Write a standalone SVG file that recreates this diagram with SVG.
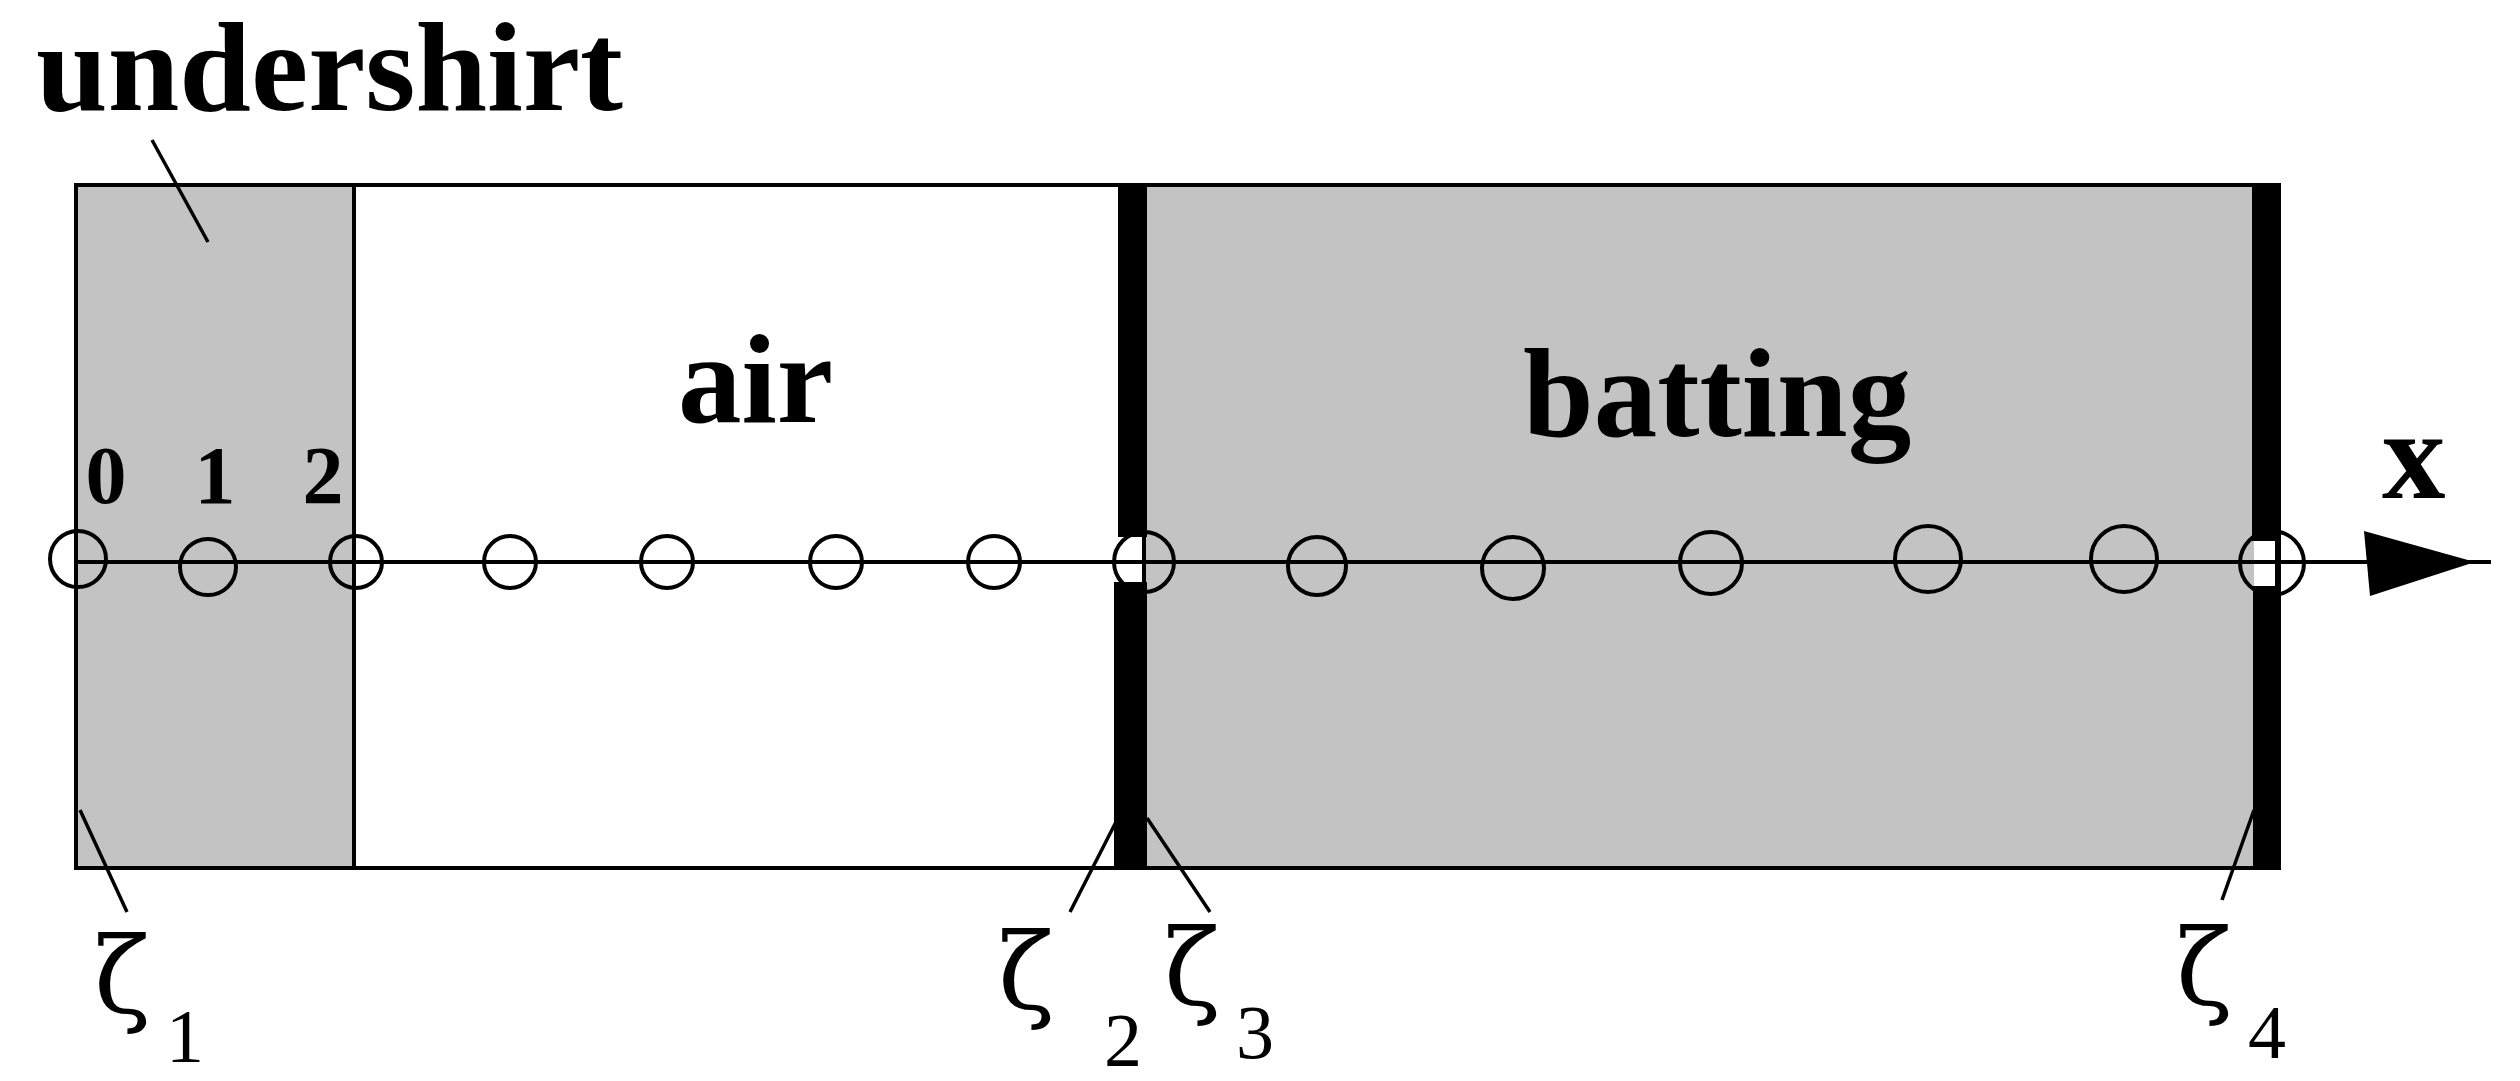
<svg xmlns="http://www.w3.org/2000/svg" width="2520" height="1081" viewBox="0 0 2520 1081">
<style>
.lbl{font-family:"Liberation Serif","Times New Roman",serif;font-weight:bold;fill:#000}
.z{font-family:"DejaVu Serif","Liberation Serif",serif;fill:#000;font-size:104px}
.s{font-family:"Liberation Serif","Times New Roman",serif;fill:#000;font-size:76px}
.ln{stroke:#000;stroke-width:4;fill:none}
.ld{stroke:#000;stroke-width:3.5;fill:none}
.node{stroke:#000;stroke-width:4;fill:none}
.gray{fill:#c3c3c3}
</style>
<rect width="2520" height="1081" fill="#fff"/>
<g id="layers">
<rect id="undershirt" class="gray" x="76" y="185" width="278" height="683"/>
<rect id="air" x="354" y="185" width="764" height="683" fill="#fff"/>
<rect id="batting" class="gray" x="1145" y="185" width="1109" height="683"/>
<rect id="outline" class="ln" x="76" y="185" width="2203" height="683"/>
<line class="ln" x1="354" y1="185" x2="354" y2="868"/>
<rect id="bar2" x="1118" y="185" width="29" height="352" fill="#000"/>
<rect id="bar2b" x="1114" y="582" width="33" height="286" fill="#000"/>
<line class="ln" x1="1144" y1="530" x2="1144" y2="590"/>
<rect id="bar4" x="2252" y="185" width="27" height="356" fill="#000"/>
<rect id="bar4b" x="2253" y="586" width="27" height="284" fill="#000"/>
<line class="ln" x1="2277" y1="530" x2="2277" y2="590"/>
</g>
<g id="connectors">
<line class="ln" x1="76" y1="562" x2="2491" y2="562"/>
<polygon points="2364,531 2475,562 2370,596" fill="#000"/>
<line class="ld" x1="152" y1="140" x2="208" y2="242"/>
<line class="ld" x1="80" y1="810" x2="127" y2="912"/>
<line class="ld" x1="1118" y1="818" x2="1070" y2="912"/>
<line class="ld" x1="1147" y1="818" x2="1210" y2="912"/>
<line class="ld" x1="2254" y1="810" x2="2222" y2="900"/>
</g>
<g id="nodes">
<circle class="node" cx="78" cy="559" r="28"/>
<circle class="node" cx="208" cy="567" r="28"/>
<circle class="node" cx="356" cy="562" r="26"/>
<circle class="node" cx="510" cy="562" r="26"/>
<circle class="node" cx="667" cy="562" r="26"/>
<circle class="node" cx="836" cy="562" r="26"/>
<circle class="node" cx="994" cy="562" r="26"/>
<circle class="node" cx="1144" cy="562" r="30"/>
<circle class="node" cx="1317" cy="566" r="29"/>
<circle class="node" cx="1513" cy="568" r="31"/>
<circle class="node" cx="1711" cy="563" r="31"/>
<circle class="node" cx="1928" cy="559" r="33"/>
<circle class="node" cx="2124" cy="559" r="33"/>
<circle class="node" cx="2272" cy="563" r="32"/>
</g>
<g id="labels">
<text class="lbl" x="36" y="110" font-size="127" textLength="587" lengthAdjust="spacingAndGlyphs">undershirt</text>
<text class="lbl" x="678" y="422" font-size="127">air</text>
<text class="lbl" x="1523" y="436" font-size="127">batting</text>
<text class="lbl" x="2382" y="498" font-size="127">x</text>
<text class="lbl" x="106" y="503" font-size="82" text-anchor="middle">0</text>
<text class="lbl" x="215" y="503" font-size="82" text-anchor="middle">1</text>
<text class="lbl" x="323" y="503" font-size="82" text-anchor="middle">2</text>
<text class="z" x="94" y="1012">ζ</text>
<text class="s" x="166" y="1062">1</text>
<text class="z" x="998" y="1008">ζ</text>
<text class="s" x="1104" y="1066">2</text>
<text class="z" x="1164" y="1004">ζ</text>
<text class="s" x="1236" y="1058">3</text>
<text class="z" x="2176" y="1004">ζ</text>
<text class="s" x="2248" y="1058">4</text>
</g>
</svg>
